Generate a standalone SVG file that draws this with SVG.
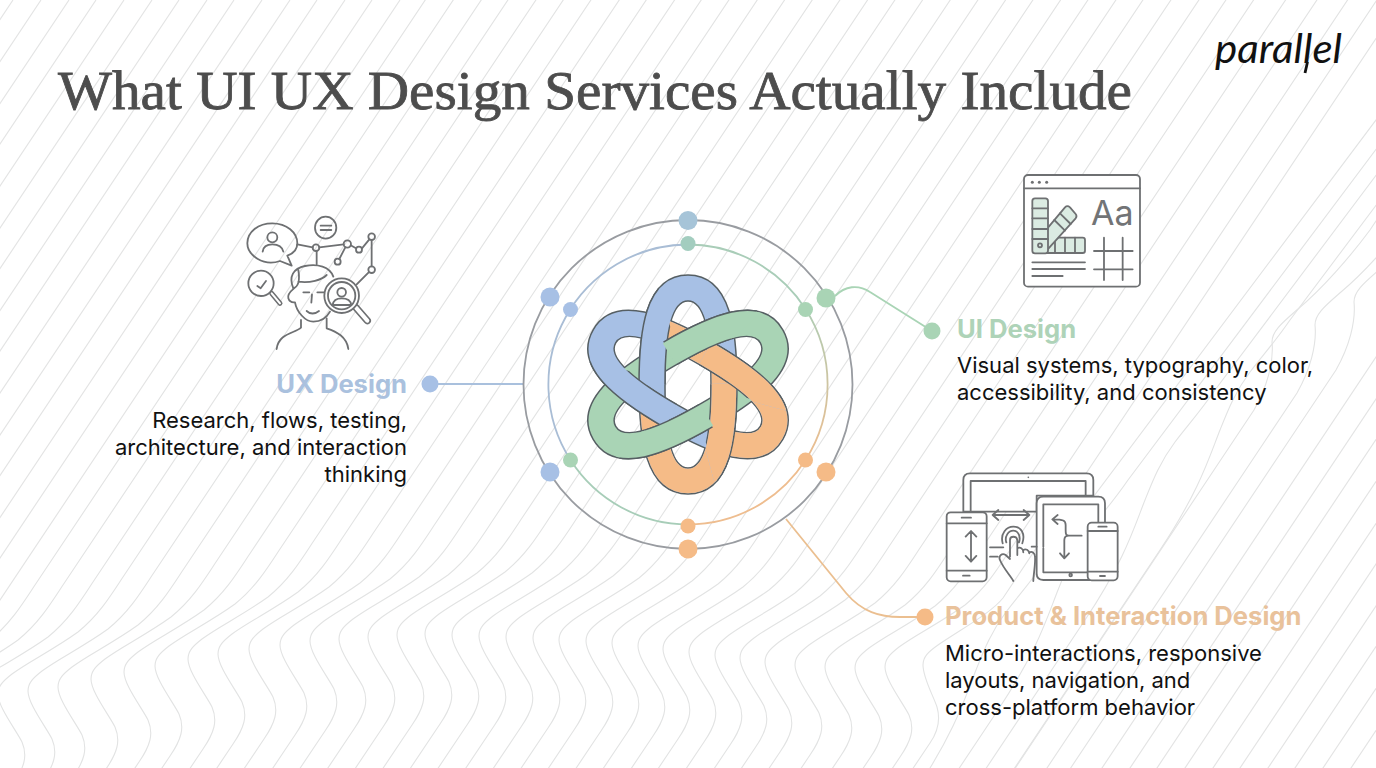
<svg xmlns="http://www.w3.org/2000/svg" width="1376" height="768" viewBox="0 0 1376 768">
<style>
.body{font-family:"Inter","Liberation Sans",sans-serif;font-size:22px;fill:#111}
.head{font-family:"Inter","Liberation Sans",sans-serif;font-size:25.6px;font-weight:700}
.ic{fill:none;stroke:#6e7072;stroke-width:5.4;stroke-linecap:round;stroke-linejoin:round}
.icw{fill:#fff;stroke:#6e7072;stroke-width:5.4;stroke-linejoin:round;stroke-linecap:round}
.sw{fill:#dbebe2;stroke:#6e7072;stroke-width:5.4;stroke-linejoin:round}
.ol{fill:none;stroke:#565f63;stroke-width:27.5}
.cb{fill:none;stroke:#a7c0e5;stroke-width:24.5}
.cg{fill:none;stroke:#a9d4b5;stroke-width:24.5}
.co{fill:none;stroke:#f5bb87;stroke-width:24.5}
.con{fill:none;stroke-width:1.8}
</style>
<defs>
<path id="T" d="M652 -905 L125 -115 C112 -95 100 -76 80 -60 C55 -42 30 -30 14 -18 C5 -11 0 -6 0 2 C0 15 18 38 24 50 C30 64 26 76 15 92 L-60 204"/>
<path id="T2" d="M620 -875 L80 -65 C68 -50 40 -35 15 -18 C5 -11 0 -6 0 2 C0 15 10 32 14 44 C18 58 14 70 7 80 L-60 180"/>
<path id="G" d="M670 -880 L70 -80 C55 -58 42 -44 30 -28 C15 -8 8 10 0 30 C-10 55 -20 90 -60 150 L-400 660"/>
<path id="R" d="M700 -1010 L98 -107 C78 -80 50 -48 26 -28 C10 -14 0 -6 0 5 C2 25 -5 50 -18 73 L-58 133 L-400 646"/>
<path id="S" d="M0 0 L-620 930"/>
<path id="e" d="M0 -96.5 C28 -96.5 36 -58 36 0 C36 58 28 96.5 0 96.5 C-28 96.5 -36 58 -36 0 C-36 -58 -28 -96.5 0 -96.5 Z"/>
<clipPath id="h1"><polygon points="173,-100 323,160 -23,360 -173,100"/></clipPath>
<clipPath id="h2"><polygon points="100,-173 360,-23 160,323 -100,173"/></clipPath>
<clipPath id="wd"><polygon points="0,0 200,0 200,239 73,239 0,0 -200,0 -200,-239 -73,-239"/></clipPath>
<clipPath id="wc"><polygon points="0,0 200,-5 200,241 65,241 0,0 -200,5 -200,-241 -65,-241"/></clipPath>
<linearGradient id="tan" x1="0" y1="1" x2="0" y2="0"><stop offset="0" stop-color="#eebd8f"/><stop offset="1" stop-color="#aeccb4"/></linearGradient>
</defs>
<rect width="1376" height="768" fill="#fff"/>
<g id="background" fill="none" stroke="#e2e3e3" stroke-width="1.1">
<use href="#S" x="-345" y="0"/><use href="#S" x="-317" y="0"/><use href="#S" x="-290" y="0"/><use href="#S" x="-262" y="0"/><use href="#S" x="-235" y="0"/><use href="#S" x="-207" y="0"/><use href="#S" x="-179" y="0"/><use href="#S" x="-152" y="0"/><use href="#S" x="-124" y="0"/><use href="#S" x="-97" y="0"/><use href="#S" x="-69" y="0"/><use href="#S" x="-41" y="0"/><use href="#S" x="-14" y="0"/><use href="#S" x="13" y="0"/><use href="#S" x="41" y="0"/><use href="#S" x="69" y="0"/><use href="#S" x="96" y="0"/><use href="#S" x="124" y="0"/><use href="#S" x="152" y="0"/><use href="#S" x="179" y="0"/><use href="#S" x="207" y="0"/><use href="#S" x="234" y="0"/><use href="#S" x="262" y="0"/><use href="#S" x="290" y="0"/><use href="#S" x="317" y="0"/><use href="#S" x="345" y="0"/><use href="#S" x="372" y="0"/><use href="#S" x="400" y="0"/>
<use href="#T" x="-90" y="700"/><use href="#T" x="-62" y="700"/><use href="#T" x="-32" y="697"/><use href="#T" x="-2" y="692"/><use href="#T" x="28" y="689"/><use href="#T" x="58" y="685"/><use href="#T" x="91" y="677"/><use href="#T" x="124" y="670"/><use href="#T" x="155" y="664"/><use href="#T" x="188" y="657"/><use href="#T" x="218" y="652"/><use href="#T" x="249" y="647"/><use href="#T" x="280" y="643"/><use href="#T" x="310" y="639"/><use href="#T" x="339" y="637"/><use href="#T" x="368" y="635"/><use href="#T" x="397" y="633"/><use href="#T" x="425" y="632"/><use href="#T" x="452" y="633"/><use href="#T" x="479" y="634"/><use href="#T" x="506" y="635"/><use href="#T" x="533" y="636"/><use href="#T" x="559" y="638"/><use href="#T" x="586" y="639"/><use href="#T" x="612" y="641"/><use href="#T" x="638" y="644"/><use href="#T" x="663" y="647"/><use href="#T" x="689" y="650"/><use href="#T" x="715" y="653"/><use href="#T" x="740" y="656"/><use href="#T" x="765" y="660"/><use href="#T" x="795" y="663"/><use href="#T" x="825" y="665"/><use href="#T" x="855" y="666"/><use href="#T" x="885" y="665"/>
<use href="#T2" x="923" y="663"/>
<use href="#G" x="976" y="640"/><use href="#G" x="1058" y="560"/><use href="#G" x="1145" y="470"/><use href="#G" x="1220" y="400"/>
<use href="#R" x="1272" y="337"/><use href="#R" x="1315" y="320"/><use href="#R" x="1354" y="297"/>
<use href="#S" x="1614" y="0"/><use href="#S" x="1642" y="0"/><use href="#S" x="1669" y="0"/><use href="#S" x="1697" y="0"/><use href="#S" x="1725" y="0"/><use href="#S" x="1752" y="0"/><use href="#S" x="1780" y="0"/><use href="#S" x="1807" y="0"/><use href="#S" x="1835" y="0"/><use href="#S" x="1863" y="0"/><use href="#S" x="1890" y="0"/>
</g>
<g id="title"><text x="58" y="109" font-family="'Liberation Serif',serif" font-size="55" fill="#4d4d4d" stroke="#4d4d4d" stroke-width=".8" textLength="1074" lengthAdjust="spacingAndGlyphs">What UI UX Design Services Actually Include</text></g>
<g id="logo"><text x="1215" y="63" font-family="'Lato',sans-serif" font-style="italic" font-size="41" fill="#111" textLength="127" lengthAdjust="spacingAndGlyphs">parallel</text><path d="M1307.5 62 L1305 73" stroke="#111" stroke-width="2.8" fill="none"/></g>
<g id="connectors">
<path class="con" stroke="#a9c0dd" d="M430 384 H524"/>
<path class="con" stroke="#a9d4b5" d="M835 296 C845 286 858 284 870 292 L932 331"/>
<path class="con" stroke="#ebbf90" d="M786 519 L846 593 C862 612 880 617 900 617 H925"/>
</g>
<g id="rings" fill="none">
<circle cx="688" cy="384.5" r="164.5" stroke="#999ca1" stroke-width="1.8"/>
<path stroke="#a9bdd5" stroke-width="1.8" d="M688 244.5 A140 140 0 0 0 570.5 460"/>
<path stroke="#a7cdb8" stroke-width="1.8" d="M570.5 460 A140 140 0 0 0 688 524.5"/>
<path stroke="#eebd8f" stroke-width="1.8" d="M688 524.5 A140 140 0 0 0 805.5 460"/>
<path stroke="url(#tan)" stroke-width="1.8" d="M805.5 460 A140 140 0 0 0 805.5 309"/>
<path stroke="#a9cdb8" stroke-width="1.8" d="M805.5 309 A140 140 0 0 0 688 244.5"/>
</g>
<g id="ring-dots">
<circle cx="688" cy="220.5" r="9.5" fill="#a6c4d8"/><circle cx="550" cy="297" r="9.5" fill="#a7c0e5"/><circle cx="550" cy="472" r="9.5" fill="#a7c0e5"/><circle cx="826" cy="298" r="9.5" fill="#a9d4b5"/><circle cx="826" cy="472" r="9.5" fill="#f5bb87"/><circle cx="688" cy="549" r="9.5" fill="#f5bb87"/>
<circle cx="688" cy="243.5" r="7.5" fill="#a3cdbf"/><circle cx="570.5" cy="309.5" r="7.5" fill="#a7c0e5"/><circle cx="805.5" cy="309.5" r="7.5" fill="#a9d4b5"/><circle cx="570.5" cy="460" r="7.5" fill="#a9d4b5"/><circle cx="805.5" cy="460" r="7.5" fill="#f5bb87"/><circle cx="688" cy="526" r="7.5" fill="#f5bb87"/>
</g>
<g id="knot" transform="translate(688 384.5)">
<use href="#e" class="ol"/><use href="#e" class="cb"/><g clip-path="url(#h1)"><use href="#e" class="co"/></g>
<g transform="rotate(-60)"><use href="#e" class="ol"/><use href="#e" class="cb"/><g clip-path="url(#h2)"><use href="#e" class="co"/></g></g>
<g transform="rotate(60)"><use href="#e" class="ol"/><use href="#e" class="cg"/></g>
<g clip-path="url(#wd)"><use href="#e" class="ol"/></g><g clip-path="url(#wc)"><use href="#e" class="cb"/></g><g clip-path="url(#wc)"><g clip-path="url(#h1)"><use href="#e" class="co"/></g></g>
<g transform="rotate(-60)"><g clip-path="url(#wd)"><use href="#e" class="ol"/></g><g clip-path="url(#wc)"><use href="#e" class="cb"/></g><g clip-path="url(#wc)"><g clip-path="url(#h2)"><use href="#e" class="co"/></g></g></g>
<g transform="rotate(60)"><g clip-path="url(#wd)"><use href="#e" class="ol"/></g><g clip-path="url(#wc)"><use href="#e" class="cg"/></g></g>
</g>
<g id="ux-node">
<circle cx="430" cy="384" r="8.5" fill="#a7c0e5"/>
<text class="head" x="407" y="393" text-anchor="end" fill="#aac1de">UX Design</text>
<text class="body" x="407" y="428" text-anchor="end">Research, flows, testing,</text>
<text class="body" x="407" y="455" text-anchor="end">architecture, and interaction</text>
<text class="body" x="407" y="482" text-anchor="end">thinking</text>
<g transform="translate(230 205) scale(.3333)">
<path class="ic" d="M150 168 C100 185 52 150 52 115 C52 80 85 55 127 55 C170 55 202 82 202 115 C202 130 192 145 172 152 L185 182 Z"/>
<circle class="ic" cx="127" cy="97" r="15"/><path class="ic" d="M98 140 C100 122 115 118 127 118 C140 118 156 122 160 140"/>
<ellipse class="ic" cx="287" cy="68" rx="32" ry="33"/><path class="ic" d="M272 62 H304 M272 75 H304"/>
<path class="ic" d="M202 118 L248 127 M268 127 L341 118 M362 121 L378 130 M396 130 L418 103 M425 105 V184 M416 202 L380 238 M346 127 L328 162 M260 138 V178"/>
<circle class="ic" cx="258" cy="128" r="10"/><circle class="ic" cx="352" cy="117" r="11"/><circle class="ic" cx="387" cy="134" r="9"/><circle class="ic" cx="425" cy="95" r="10"/><circle class="ic" cx="425" cy="194" r="10"/><circle class="ic" cx="323" cy="170" r="9"/>
<path class="ic" d="M190 250 C175 215 190 190 225 183 C262 175 300 185 310 215 M205 195 C210 225 205 245 190 250 M205 230 C240 235 275 225 290 210"/>
<path class="ic" d="M192 250 C180 260 172 270 175 280 C178 290 185 293 195 292 C200 320 225 350 250 350 C272 350 290 338 300 320"/>
<path class="ic" d="M220 262 H238 M262 262 H282 M246 268 L244 293 M230 318 C240 328 255 328 267 318"/>
<path class="ic" d="M213 345 V368 C195 385 145 385 140 432 M290 340 V370 C320 380 350 395 355 432"/>
<line x1="378" y1="308" x2="412" y2="347" stroke="#6e7072" stroke-width="22" stroke-linecap="round"/><line x1="378" y1="308" x2="412" y2="347" stroke="#fff" stroke-width="12" stroke-linecap="round"/>
<circle class="icw" cx="335" cy="272" r="52"/><circle class="ic" cx="335" cy="272" r="41"/><circle class="ic" cx="335" cy="262" r="13"/><path class="ic" d="M308 300 C310 285 320 280 335 280 C350 280 362 285 364 300 Z"/>
<line x1="125" y1="265" x2="150" y2="295" stroke="#6e7072" stroke-width="15" stroke-linecap="round"/><line x1="125" y1="265" x2="150" y2="295" stroke="#fff" stroke-width="6" stroke-linecap="round"/>
<circle class="icw" cx="93" cy="235" r="38"/><path class="ic" d="M82 243 L92 250 L108 228"/>
</g>
</g>
<g id="ui-node">
<circle cx="932" cy="331" r="8.5" fill="#a9d4b5"/>
<text class="head" x="957" y="338" fill="#aed3b8">UI Design</text>
<text class="body" x="957" y="373">Visual systems, typography, color,</text>
<text class="body" x="957" y="400">accessibility, and consistency</text>
<g transform="translate(1010 165) scale(.3333)">
<rect class="icw" x="42" y="30" width="348" height="335" rx="12"/>
<path class="ic" d="M42 70 H390"/>
<circle cx="67" cy="52" r="4.5" fill="#6e7072"/><circle cx="88" cy="52" r="4.5" fill="#6e7072"/><circle cx="110" cy="52" r="4.5" fill="#6e7072"/>
<path class="sw" d="M105 218 H218 Q225 218 225 225 V257 Q225 264 218 264 H90 Z"/>
<path class="ic" d="M135 218 V264 M165 218 V264 M195 218 V264"/>
<path class="sw" d="M112 190 L165 127 Q172 120 180 127 L197 147 Q202 153 197 160 L105 262 Z"/>
<path class="ic" d="M133 165 L165 197 M150 145 L182 177"/>
<rect class="sw" x="67" y="100" width="47" height="165" rx="8"/>
<path class="ic" d="M67 130 H114 M67 160 H114 M67 192 H114 M67 222 H114"/>
<circle class="ic" cx="90" cy="241" r="6"/>
<path class="ic" d="M67 292 H225 M67 312 H225 M67 333 H158 M282 218 V345 M338 218 V345 M252 258 H368 M252 313 H368"/>
</g>
<text x="1091" y="225" font-family="'Inter',sans-serif" font-size="34" fill="#727476">Aa</text>
</g>
<g id="product-node">
<circle cx="925" cy="617" r="8.5" fill="#f5bb87"/>
<text class="head" x="945" y="625" fill="#e9c29b">Product &amp; Interaction Design</text>
<text class="body" x="945" y="661">Micro-interactions, responsive</text>
<text class="body" x="945" y="688">layouts, navigation, and</text>
<text class="body" x="945" y="715">cross-platform behavior</text>
<g transform="translate(935 465) scale(.3333)">
<path class="icw" d="M85 140 V45 Q85 25 105 25 H455 Q475 25 475 45 V92 H305 V140 Z"/>
<path class="ic" d="M107 140 V48 H452 V92"/><circle cx="280" cy="37" r="2.5" fill="#6e7072"/>
<path class="icw" d="M325 345 Q305 345 305 325 V115 Q305 95 325 95 H490 Q510 95 510 115 V345 Z"/>
<path class="ic" d="M325 250 V322 H458 M325 245 V118 H490 V170 M290 245 H305"/>
<circle class="ic" cx="407" cy="330" r="4"/>
<rect class="icw" x="35" y="142" width="120" height="207" rx="12"/>
<path class="ic" d="M35 175 H155 M35 317 H155 M80 158 H108 M84 332 H104 M108 200 V290 M92 215 L108 198 L124 215 M92 273 L108 290 L124 273 M173 150 H283 M190 135 L173 150 L190 165 M266 135 L283 150 L266 165"/>
<rect class="icw" x="458" y="173" width="90" height="173" rx="12"/>
<path class="ic" d="M458 198 H548 M458 320 H548 M490 185 H515 M495 333 H510"/>
<path class="ic" d="M440 212 H402 C392 212 392 205 392 195 V180 C392 167 385 163 355 163 M368 150 L352 163 L368 177 M402 212 C392 212 388 215 388 225 V278 M375 265 L388 280 L402 265"/>
<path class="ic" d="M203 235 C195 205 215 185 235 185 C258 185 272 205 262 235 M214 232 C208 215 220 197 235 197 C250 197 258 215 252 232 M225 275 V225 C225 212 245 212 247 225 V270 M247 250 C255 245 265 250 265 262 M265 255 C272 250 282 255 283 265 M283 262 C292 258 300 265 300 275 C302 300 295 330 295 348 M225 282 L212 270 C200 262 190 275 195 285 C205 310 225 330 235 348 M165 247 H205 M165 275 H188"/>
</g>
</g>
</svg>
